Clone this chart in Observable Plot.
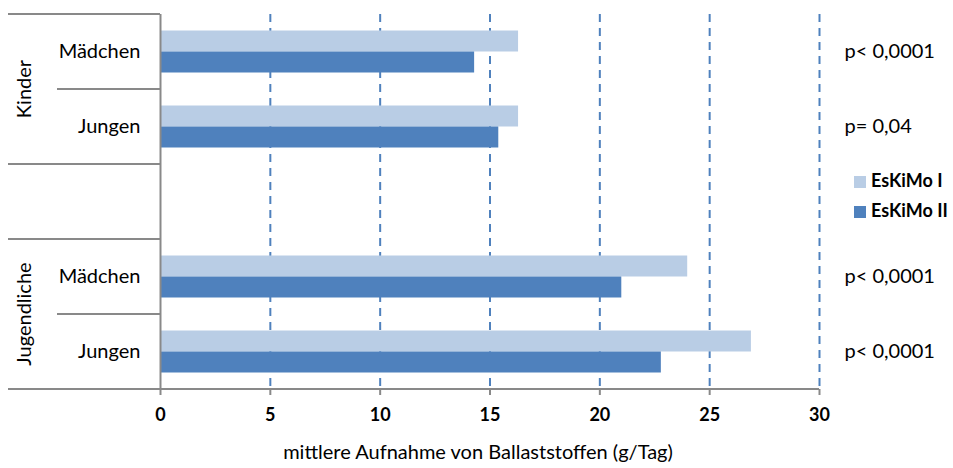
<!DOCTYPE html>
<html><head><meta charset="utf-8">
<script src="https://cdn.jsdelivr.net/npm/d3@7"></script>
<script src="https://cdn.jsdelivr.net/npm/@observablehq/plot@0.6"></script>
<style>body{margin:0;background:#fff}</style>
</head><body><div id="chart"></div>
<script>
const rows = ["K-M", "K-J", "gap", "J-M", "J-J"];
const rowLabels = ["Mädchen", "Jungen", "", "Mädchen", "Jungen"];
const rowGroups = ["Kinder", "Kinder", null, "Jugendliche", "Jugendliche"];
const groupNames = ["Kinder", "Jugendliche"];
const eskimo1 = [16.3, 16.3, null, 24.0, 26.9];
const eskimo2 = [14.3, 15.4, null, 21.0, 22.8];
const pValues = ["p< 0,0001", "p= 0,04", "", "p< 0,0001", "p< 0,0001"];
const seriesNames = ["EsKiMo I", "EsKiMo II"];
const seriesColors = ["#B9CDE5", "#4F81BD"];
const xTicks = [0, 5, 10, 15, 20, 25, 30];
const xTitle = "mittlere Aufnahme von Ballaststoffen (g/Tag)";

const data1 = rows.map((r, i) => ({row: r, value: eskimo1[i]})).filter(d => d.value != null);
const data2 = rows.map((r, i) => ({row: r, value: eskimo2[i]})).filter(d => d.value != null);
const pData = rows.map((r, i) => ({row: r, p: pValues[i]})).filter(d => d.p);

const gray = "#898989";
const font = "Lato, 'Open Sans', sans-serif";

const plot = Plot.plot({
  width: 953, height: 468,
  marginLeft: 160, marginRight: 134, marginTop: 14, marginBottom: 79,
  style: {fontFamily: font, fontSize: "20px", color: "#000", background: "#fff"},
  x: {domain: [0, 30]},
  y: {domain: rows, padding: 0},
  marks: [
    Plot.ruleX(xTicks.filter(d => d > 0), {stroke: "#4F81BD", strokeWidth: 2, strokeDasharray: "8,6"}),
    Plot.barX(data1, {x: "value", y: "row", fill: seriesColors[0], insetTop: 27, insetBottom: 27, dy: -10.5}),
    Plot.barX(data2, {x: "value", y: "row", fill: seriesColors[1], insetTop: 27, insetBottom: 27, dy: 10.5}),
    Plot.ruleX([0], {stroke: gray, strokeWidth: 2}),
    Plot.axisX({ticks: xTicks, tickSize: 6, tickPadding: 13, fontWeight: "bold", fontSize: 18, stroke: gray, strokeWidth: 2, label: null}),
    Plot.axisY({tickSize: 0, tickPadding: 20, tickFormat: d => rowLabels[rows.indexOf(d)], label: null}),
    Plot.text(pData, {y: "row", text: "p", frameAnchor: "right", textAnchor: "start", dx: 25}),
    Plot.text([xTitle], {frameAnchor: "bottom", dy: 69, dx: -12})
  ]
});

const svg = d3.select(plot);
const y = plot.scale("y");
const x = plot.scale("x");
const bw = y.bandwidth;
const xLeft = 8, xInner = 57;
const x0 = x.apply(0), x30 = x.apply(30);
const g = svg.append("g");
rows.forEach((r, i) => {
  const yy = y.apply(r);
  const short = i > 0 && rowGroups[i] != null && rowGroups[i] === rowGroups[i - 1];
  g.append("line").attr("x1", short ? xInner : xLeft).attr("x2", x0)
    .attr("y1", yy).attr("y2", yy).attr("stroke", gray).attr("stroke-width", 2);
});
const yBottom = y.apply(rows[rows.length - 1]) + bw;
g.append("line").attr("x1", xLeft).attr("x2", x30).attr("y1", yBottom).attr("y2", yBottom)
  .attr("stroke", gray).attr("stroke-width", 2);

groupNames.forEach(name => {
  const rs = rows.filter((r, i) => rowGroups[i] === name);
  const cy = d3.mean(rs, r => y.apply(r) + bw / 2);
  g.append("text").attr("transform", `translate(26,${cy}) rotate(-90)`)
    .attr("text-anchor", "middle").attr("dominant-baseline", "middle")
    .attr("font-family", font).attr("font-size", 20).text(name);
});

const lg = svg.append("g").attr("transform", "translate(854,182)");
seriesNames.forEach((s, i) => {
  const row = lg.append("g").attr("transform", `translate(0,${i * 30})`);
  row.append("rect").attr("x", 0).attr("y", -6).attr("width", 12).attr("height", 12).attr("fill", seriesColors[i]);
  row.append("text").attr("x", 17).attr("y", 0).attr("dominant-baseline", "middle")
    .attr("text-anchor", "start")
    .attr("font-family", font).attr("font-size", 18).attr("font-weight", "bold").text(s);
});

document.getElementById("chart").appendChild(plot);
</script>
</body></html>
